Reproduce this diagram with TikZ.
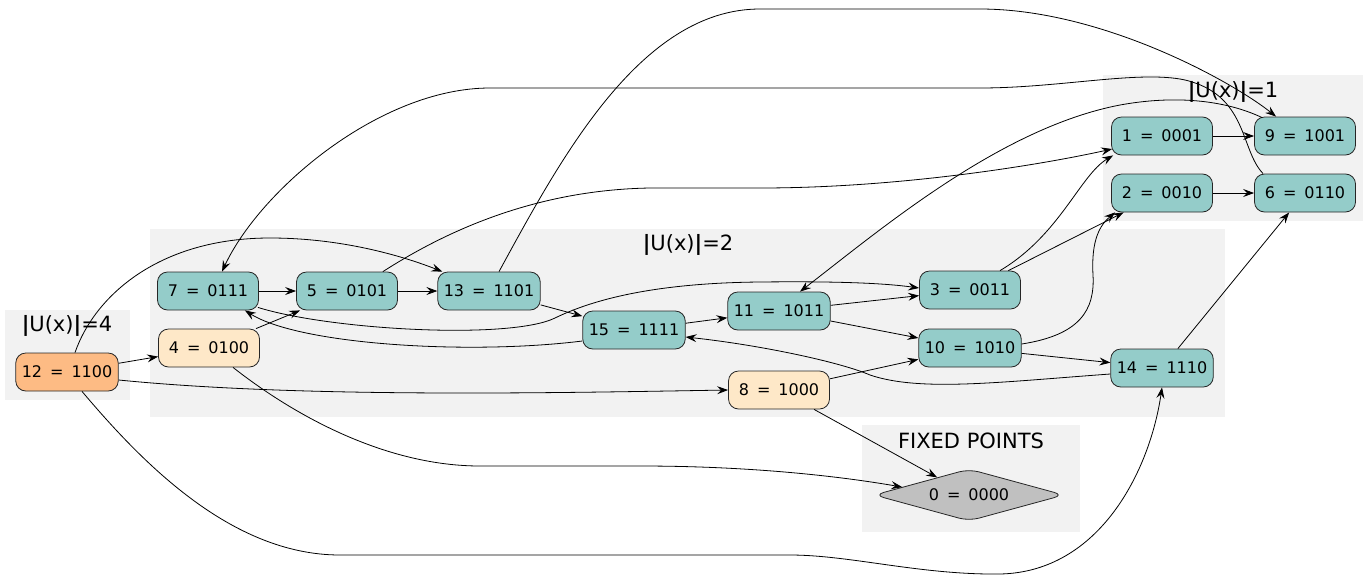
\documentclass[tikz,border=0pt]{standalone}
\usepackage{fontspec}
\setmainfont{DejaVu Sans}
\usetikzlibrary{shapes.geometric,arrows.meta,calc}
\definecolor{cTeal}{RGB}{148,204,201}
\definecolor{cOrange}{RGB}{253,187,132}
\definecolor{cPeach}{RGB}{254,232,200}
\definecolor{cGrey}{RGB}{192,192,192}
\definecolor{cBg}{RGB}{242,242,242}
\begin{document}
\begin{tikzpicture}[x=1pt,y=-1pt,
  nodebox/.style={draw=black!85, rounded corners=10pt, minimum width=101pt, minimum height=38pt, inner xsep=6pt, font=\fontsize{16}{19}\selectfont, line width=0.8pt},
  tealbox/.style={nodebox, fill=cTeal},
  peachbox/.style={nodebox, fill=cPeach},
  orangebox/.style={nodebox, fill=cOrange},
  edge/.style={-{Stealth[length=11pt,width=8pt,inset=4pt]}, line width=0.8pt},
  cluster/.style={fill=cBg, draw=none},
  clabel/.style={font=\fontsize{21}{24}\selectfont, inner sep=0pt}]
\useasboundingbox (0,0) rectangle (1370,576);
% clusters
\fill[cluster] (5,310) rectangle (130,400);
\fill[cluster] (150,229) rectangle (1225,417);
\fill[cluster] (1103,75) rectangle (1363,221);
\fill[cluster] (862,425) rectangle (1080,532);
\node[clabel] (l4) at (67,326) {\textbf{|}U(x)\textbf{|}=4};
\node[clabel] (l2) at (688,245) {\textbf{|}U(x)\textbf{|}=2};
\node[clabel] (l1) at (1233,92) {\textbf{|}U(x)\textbf{|}=1};
\node[clabel] (lf) at (971,441) {FIXED POINTS};
% nodes
\node[orangebox] (n12) at (67,372) {12\hspace{0.5em}=\hspace{0.5em}1100};
\node[peachbox] (n4) at (209,348) {4\hspace{0.5em}=\hspace{0.5em}0100};
\node[tealbox] (n7) at (208,291) {7\hspace{0.5em}=\hspace{0.5em}0111};
\node[tealbox] (n5) at (347,291) {5\hspace{0.5em}=\hspace{0.5em}0101};
\node[tealbox] (n13) at (489,291) {13\hspace{0.5em}=\hspace{0.5em}1101};
\node[tealbox] (n15) at (634,330) {15\hspace{0.5em}=\hspace{0.5em}1111};
\node[tealbox] (n11) at (779,311) {11\hspace{0.5em}=\hspace{0.5em}1011};
\node[tealbox] (n3) at (970,290) {3\hspace{0.5em}=\hspace{0.5em}0011};
\node[tealbox] (n10) at (970,348) {10\hspace{0.5em}=\hspace{0.5em}1010};
\node[tealbox] (n14) at (1162,368) {14\hspace{0.5em}=\hspace{0.5em}1110};
\node[peachbox] (n8) at (779,390) {8\hspace{0.5em}=\hspace{0.5em}1000};
\node[tealbox] (n1) at (1162,136) {1\hspace{0.5em}=\hspace{0.5em}0001};
\node[tealbox] (n2) at (1162,193) {2\hspace{0.5em}=\hspace{0.5em}0010};
\node[tealbox] (n9) at (1305,136) {9\hspace{0.5em}=\hspace{0.5em}1001};
\node[tealbox] (n6) at (1305,193) {6\hspace{0.5em}=\hspace{0.5em}0110};
\node[diamond, draw=black!85, line width=0.8pt, fill=cGrey, rounded corners=10pt, minimum width=190pt, minimum height=52pt, inner sep=0pt, aspect=3.6, font=\fontsize{16}{19}\selectfont] (n0) at (969,495) {0\hspace{0.5em}=\hspace{0.5em}0000};
% edges
\draw[edge] (n12) -- (n4);
\draw[edge] ($(n12.east)+(0,8)$) .. controls (300,398) and (550,393) .. (n8.west);
\draw[edge] ($(n12.north)+(8,0)$) .. controls (95,295) and (160,238) .. (270,238) .. controls (340,238) and (400,255) .. ($(n13.north west)+(5,0)$);
\draw[edge] ($(n12.south)+(15,0)$) .. controls (140,460) and (230,555) .. (340,555) -- (790,555) .. controls (850,555) and (920,575) .. (1000,574) .. controls (1100,572) and (1150,470) .. (n14.south);
\draw[edge] (n4) -- (n5);
\draw[edge] ($(n4.south)+(24,0)$) .. controls (300,420) and (390,466) .. (480,466) -- (640,466) .. controls (760,466) and (850,478) .. ($(n0.west)!0.3!(n0.north)$);
\draw[edge] (n8) -- (n0);
\draw[edge] (n8) -- (n10);
\draw[edge] (n7) -- (n5);
\draw[edge] (n5) -- (n13);
\draw[edge] ($(n5.north east)+(-15,0)$) .. controls (440,235) and (530,190) .. (650,188) -- (760,188) .. controls (900,188) and (1040,165) .. ($(n1.west)+(1,13)$);
\draw[edge] ($(n13.north)+(10,0)$) .. controls (560,160) and (640,9) .. (760,9) -- (980,9) .. controls (1100,9) and (1230,80) .. ($(n9.north west)+(22,0)$);
\draw[edge] (n13) -- (n15);
\draw[edge] (n15) -- (n11);
\draw[edge] ($(n15.west)+(0,11)$) .. controls (470,355) and (300,345) .. ($(n7.south east)+(-14,0)$);
\draw[edge] ($(n7.south east)+(-1,-3)$) .. controls (330,330) and (510,340) .. (555,318) .. controls (590,301) and (650,283) .. (760,282) .. controls (850,281) and (890,284) .. ($(n3.west)+(0,-2)$);
\draw[edge] (n11) -- (n3);
\draw[edge] (n11) -- (n10);
\draw[edge] (n10) -- (n14);
\draw[edge] ($(n10.east)+(0,-4)$) .. controls (1080,335) and (1095,310) .. (1093,275) .. controls (1091,240) and (1100,225) .. ($(n2.south west)+(4,0)$);
\draw[edge] ($(n3.north)+(30,0)$) .. controls (1060,235) and (1080,175) .. ($(n1.south west)+(2,0)$);
\draw[edge] (n3) -- (n2);
\draw[edge] (n1) -- (n9);
\draw[edge] (n2) -- (n6);
\draw[edge] (n14) -- (n6);
\draw[edge] ($(n14.west)+(0,6)$) .. controls (1000,382) and (920,392) .. (870,375) .. controls (840,362) and (760,345) .. ($(n15.east)+(0,7)$);
\draw[edge] ($(n9.north west)+(8,1)$) .. controls (1225,100) and (1175,95) .. (1120,105) .. controls (1000,128) and (880,230) .. ($(n11.north)+(21,0)$);
\draw[edge] ($(n6.north west)+(9,0)$) .. controls (1240,150) and (1248,95) .. (1185,80) .. controls (1140,70) and (1060,88) .. (980,88) -- (490,88) .. controls (380,88) and (260,190) .. ($(n7.north)+(14,0)$);
\end{tikzpicture}
\end{document}
